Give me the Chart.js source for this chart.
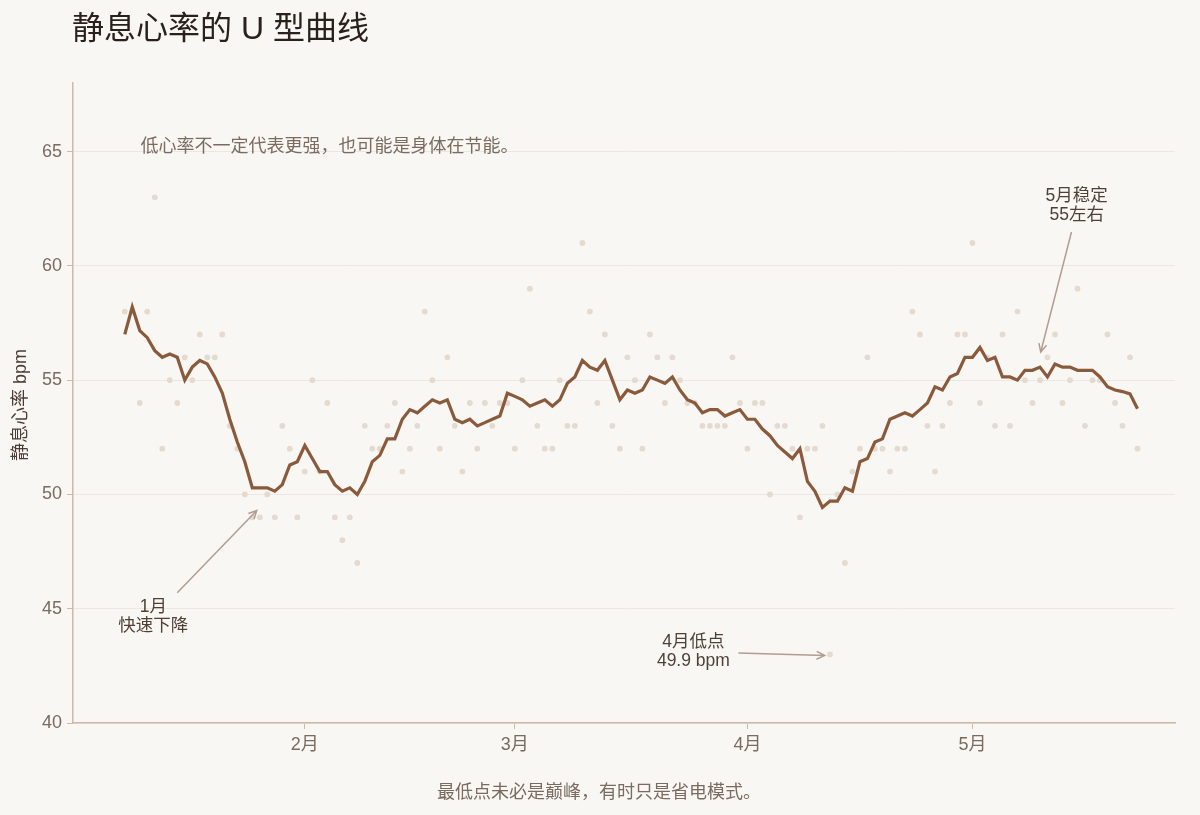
<!DOCTYPE html>
<html>
<head>
<meta charset="utf-8">
<script src="https://cdn.jsdelivr.net/npm/chart.js@4.4.1/dist/chart.umd.min.js"></script>
<style>
  html, body { margin: 0; padding: 0; background: #f9f7f3; }
  #wrap { width: 1200px; height: 815px; }
</style>
</head>
<body>
<div id="wrap"><canvas id="myChart" width="1200" height="815"></canvas></div>
<script>
'use strict';

// day index of first reading (Jan 1 = 0, so 7 = Jan 8)
let firstDay = 7;

// daily resting heart rate, Jan 8 .. May 23
let dailyBpm = [
  58, 58, 54, 58, 63, 52, 55, 54, 56, 55,
  57, 56, 56, 57, 53, 52, 50, 49, 49, 50,
  49, 53, 52, 49, 51, 55, 51, 54, 49, 48,
  49, 47, 53, 52, 52, 53, 54, 51, 52, 53,
  58, 55, 52, 56, 53, 51, 54, 52, 54, 53,
  54, 54, 52, 55, 59, 53, 52, 52, 55, 53,
  53, 61, 58, 54, 57, 53, 52, 56, 55, 52,
  57, 56, 54, 56, 55, 54, 54, 53, 53, 53,
  53, 56, 54, 52, 54, 54, 50, 53, 53, 52,
  49, 52, 52, 53, 43, 50, 47, 51, 52, 56,
  52, 52, 51, 52, 52, 58, 57, 53, 51, 53,
  54, 57, 57, 61, 54, 56, 53, 57, 53, 58,
  55, 54, 55, 56, 57, 54, 55, 59, 53, 55,
  55, 57, 54, 53, 56, 52
];

// smoothed curve
let smoothBpm = [
  57.00, 58.20, 57.17, 56.86, 56.29, 56.00, 56.14, 56.00, 55.00, 55.57,
  55.86, 55.71, 55.14, 54.43, 53.29, 52.29, 51.43, 50.29, 50.29, 50.29,
  50.14, 50.43, 51.29, 51.43, 52.14, 51.57, 51.00, 51.00, 50.43, 50.14,
  50.29, 50.00, 50.57, 51.43, 51.71, 52.43, 52.43, 53.29, 53.71, 53.57,
  53.86, 54.14, 54.00, 54.14, 53.29, 53.14, 53.29, 53.00, 53.14, 53.29,
  53.43, 54.43, 54.29, 54.14, 53.86, 54.00, 54.14, 53.86, 54.14, 54.86,
  55.14, 55.86, 55.57, 55.43, 55.86, 55.00, 54.14, 54.57, 54.43, 54.57,
  55.14, 55.00, 54.86, 55.14, 54.57, 54.14, 54.00, 53.57, 53.71, 53.71,
  53.43, 53.57, 53.71, 53.29, 53.29, 52.86, 52.57, 52.14, 51.86, 51.57,
  52.00, 50.57, 50.14, 49.43, 49.71, 49.71, 50.29, 50.14, 51.43, 51.57,
  52.29, 52.43, 53.29, 53.43, 53.57, 53.43, 53.71, 54.00, 54.71, 54.57,
  55.14, 55.29, 56.00, 56.00, 56.43, 55.86, 56.00, 55.14, 55.14, 55.00,
  55.43, 55.43, 55.57, 55.14, 55.71, 55.57, 55.57, 55.43, 55.43, 55.43,
  55.14, 54.71, 54.57, 54.50, 54.40, 53.75
];

let monthTicks = [31, 59, 90, 120];
let monthLabels = ['2月', '3月', '4月', '5月'];
let yTicks = [40, 45, 50, 55, 60, 65];

let titleText = '静息心率的 U 型曲线';
let noteText = '低心率不一定代表更强，也可能是身体在节能。';
let yTitle = '静息心率 bpm';
let xTitle = '最低点未必是巅峰，有时只是省电模式。';

// annotations: text lines, text anchor and arrow (data coords)
let notes = [
  { lines: ['1月', '快速下降'], tx: 10.8, ty: 45.07, from: [14.0, 45.7], to: [24.6, 49.3] },
  { lines: ['4月低点', '49.9 bpm'], tx: 82.8, ty: 43.54, from: [88.8, 43.06], to: [100.3, 42.95] },
  { lines: ['5月稳定', '55左右'], tx: 133.9, ty: 63.05, from: [133.2, 61.48], to: [129.1, 56.23] }
];

let latin = '"Liberation Sans", "Noto Sans CJK SC", sans-serif';

let dotPoints = [];
let linePoints = [];
for (let i = 0; i < dailyBpm.length; i++) {
  dotPoints.push({ x: firstDay + i, y: dailyBpm[i] });
  linePoints.push({ x: firstDay + i, y: smoothBpm[i] });
}

function drawArrow(ctx, x1, y1, x2, y2) {
  let ang = Math.atan2(y2 - y1, x2 - x1);
  let len = 9;
  ctx.beginPath();
  ctx.moveTo(x1, y1);
  ctx.lineTo(x2, y2);
  ctx.moveTo(x2 - len * Math.cos(ang - 0.45), y2 - len * Math.sin(ang - 0.45));
  ctx.lineTo(x2, y2);
  ctx.lineTo(x2 - len * Math.cos(ang + 0.45), y2 - len * Math.sin(ang + 0.45));
  ctx.stroke();
}

let decor = {
  id: 'decor',
  beforeDraw(chart) {
    let ctx = chart.ctx;
    ctx.save();
    ctx.fillStyle = '#f9f7f3';
    ctx.fillRect(0, 0, chart.width, chart.height);
    ctx.restore();
  },
  afterDraw(chart) {
    let ctx = chart.ctx;
    let xs = chart.scales.x;
    let ys = chart.scales.y;
    ctx.save();

    // title
    ctx.fillStyle = '#2a201c';
    ctx.font = '32px ' + latin;
    ctx.textAlign = 'left';
    ctx.textBaseline = 'middle';
    ctx.fillText(titleText, 72, 30);

    // note under title
    ctx.fillStyle = '#7a6a60';
    ctx.font = '18px ' + latin;
    ctx.fillText(noteText, xs.getPixelForValue(9.1), ys.getPixelForValue(65.2));

    // axis titles
    ctx.fillStyle = '#4a3c35';
    ctx.save();
    ctx.translate(21, 405);
    ctx.rotate(-Math.PI / 2);
    ctx.textAlign = 'center';
    ctx.fillText(yTitle, 0, 0);
    ctx.restore();

    ctx.fillStyle = '#7a6a60';
    ctx.textAlign = 'center';
    ctx.fillText(xTitle, 599, 793);

    // annotations
    ctx.strokeStyle = '#b29d90';
    ctx.lineWidth = 1.5;
    ctx.font = '17.5px ' + latin;
    notes.forEach(function (n) {
      let tx = xs.getPixelForValue(n.tx);
      let ty = ys.getPixelForValue(n.ty);
      ctx.fillStyle = '#4f3f36';
      ctx.textAlign = 'center';
      n.lines.forEach(function (s, i) {
        ctx.fillText(s, tx, ty + i * 19);
      });
      drawArrow(ctx,
        xs.getPixelForValue(n.from[0]), ys.getPixelForValue(n.from[1]),
        xs.getPixelForValue(n.to[0]), ys.getPixelForValue(n.to[1]));
    });
    ctx.restore();
  }
};

let ctx = document.getElementById('myChart').getContext('2d');
let myChart = new Chart(ctx, {
  type: 'line',
  data: {
    datasets: [
      {
        label: '7日均值',
        data: linePoints,
        borderColor: '#8a5a3c',
        borderWidth: 3.2,
        pointRadius: 0,
        tension: 0,
        fill: false,
        order: 1
      },
      {
        label: '每日',
        type: 'scatter',
        data: dotPoints,
        backgroundColor: '#e4dacf',
        borderWidth: 0,
        pointRadius: 2.9,
        order: 2
      }
    ]
  },
  options: {
    responsive: false,
    animation: false,
    devicePixelRatio: 1,
    layout: { padding: { top: 83, right: 25, left: 0, bottom: 0 } },
    plugins: {
      legend: { display: false },
      tooltip: { enabled: false }
    },
    scales: {
      x: {
        type: 'linear',
        min: 0.1,
        max: 147,
        afterBuildTicks(scale) {
          scale.ticks = monthTicks.map(v => ({ value: v }));
        },
        afterFit(scale) { scale.height = 92; },
        ticks: {
          autoSkip: false,
          maxRotation: 0,
          padding: 5,
          color: '#7a6a60',
          font: { size: 18, family: latin },
          callback(v) {
            let i = monthTicks.indexOf(v);
            return i >= 0 ? monthLabels[i] : '';
          }
        },
        grid: { drawOnChartArea: false, tickLength: 6, tickColor: '#cdb9aa', color: '#cdb9aa' },
        border: { color: '#cdb9aa', width: 1.5 }
      },
      y: {
        min: 40,
        max: 68,
        afterBuildTicks(scale) {
          scale.ticks = yTicks.map(v => ({ value: v }));
        },
        afterFit(scale) { scale.width = 73; },
        ticks: {
          padding: 5,
          color: '#7a6a60',
          font: { size: 18, family: latin }
        },
        grid: { color: '#ece7e1', lineWidth: 1, tickLength: 6, tickColor: '#cdb9aa' },
        border: { color: '#cdb9aa', width: 1.5 }
      }
    }
  },
  plugins: [decor]
});
</script>
</body>
</html>
